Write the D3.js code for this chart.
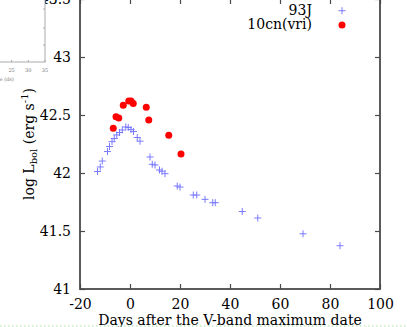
<!DOCTYPE html>
<html><head><meta charset="utf-8">
<script src="https://cdn.jsdelivr.net/npm/d3@7"></script>
<style>
html,body{margin:0;padding:0;background:#fff;}
svg{display:block;}
text{font-family:"DejaVu Serif",serif;}
</style></head>
<body>
<script>
// ---- data ----
const days93J = [-13.0,-11.9,-11.1,-9.0,-8.2,-7.2,-6.3,-5.3,-4.2,-3.1,-1.7,-0.7,0.4,1.4,2.9,4.0,8.0,8.9,10.0,11.8,12.8,14.0,18.9,20.0,25.3,26.7,30.0,33.1,34.1,44.9,51.1,69.2,84.0];
const logL93J = [42.013,42.052,42.103,42.185,42.228,42.27,42.297,42.328,42.349,42.371,42.397,42.392,42.375,42.358,42.306,42.274,42.138,42.075,42.069,42.026,42.015,41.994,41.888,41.879,41.81,41.81,41.773,41.744,41.744,41.668,41.612,41.476,41.373];
const days10cn = [-6.7,-5.6,-4.5,-2.7,-0.5,0.4,1.3,6.5,7.5,15.5,20.4];
const logL10cn = [42.385,42.485,42.474,42.584,42.62,42.62,42.60,42.566,42.457,42.325,42.164];
const xTicks = [-20,0,20,40,60,80,100];
const yTicks = [41,41.5,42,42.5,43,43.5];
const legendLabels = ["93J","10cn(vri)"];
const insetTicks = [25,30,35];

const W = 407, H = 327;
const svg = d3.select("body").append("svg").attr("width",W).attr("height",H);

const x = d3.scaleLinear().domain([-20,100]).range([80,380]);
const y = d3.scaleLinear().domain([41,43.5]).range([289,-1]);
const axisColor = "#4a4a4a";

// axes
const gx = svg.append("g").attr("transform",`translate(0,${y(41)})`)
  .call(d3.axisBottom(x).tickValues(xTicks).tickSize(-5).tickSizeOuter(0).tickPadding(10).tickFormat(d=>d));
const gxt = svg.append("g").attr("transform",`translate(0,${y(43.5)})`)
  .call(d3.axisTop(x).tickValues(xTicks).tickSize(-5).tickSizeOuter(0).tickFormat(""));
const gy = svg.append("g").attr("transform",`translate(${x(-20)},0)`)
  .call(d3.axisLeft(y).tickValues(yTicks).tickSize(-5).tickSizeOuter(0).tickPadding(9).tickFormat(d=>d));
const gyr = svg.append("g").attr("transform",`translate(${x(100)},0)`)
  .call(d3.axisRight(y).tickValues(yTicks).tickSize(-5).tickSizeOuter(0).tickFormat(""));
[gx,gxt,gy,gyr].forEach(g=>{
  g.select(".domain").remove();
  g.selectAll(".tick line").attr("stroke",axisColor).attr("stroke-width",1.2);
  g.selectAll(".tick text").attr("fill","#000").attr("font-size",14).attr("font-family","DejaVu Serif, serif");
});
// frame
svg.append("rect").attr("x",x(-20)).attr("y",y(43.5)).attr("width",x(100)-x(-20)).attr("height",y(41)-y(43.5))
  .attr("fill","none").attr("stroke",axisColor).attr("stroke-width",1.8);

// 93J crosses
svg.append("g").selectAll("path").data(days93J).join("path")
  .attr("transform",(d,i)=>`translate(${x(d)},${y(logL93J[i])})`)
  .attr("d","M-3.5,0H3.5M0,-3.5V3.5")
  .attr("stroke","#7a7aff").attr("stroke-width",1).attr("fill","none");

// 10cn dots
svg.append("g").selectAll("circle").data(days10cn).join("circle")
  .attr("cx",d=>x(d)).attr("cy",(d,i)=>y(logL10cn[i])).attr("r",3.5).attr("fill","#ff0000");

// legend
const lg = svg.append("g");
lg.append("text").attr("x",312).attr("y",14.5).attr("text-anchor","end").attr("font-size",14).text(legendLabels[0]);
lg.append("text").attr("x",312).attr("y",29).attr("text-anchor","end").attr("font-size",14).text(legendLabels[1]);
lg.append("path").attr("transform","translate(342,10.7)").attr("d","M-3.5,0H3.5M0,-3.5V3.5").attr("stroke","#7a7aff").attr("stroke-width",1);
lg.append("circle").attr("cx",342).attr("cy",25).attr("r",3.5).attr("fill","#ff0000");

// x label
svg.append("text").attr("x",230).attr("y",324.5).attr("text-anchor","middle").attr("font-size",14)
  .text("Days after the V-band maximum date");

// y label
const yl = svg.append("text").attr("transform","translate(34,144) rotate(-90)").attr("text-anchor","middle").attr("font-size",14);
yl.append("tspan").text("log L");
yl.append("tspan").attr("font-size",10).attr("dy",3).text("bol");
yl.append("tspan").attr("dy",-3).text(" (erg s");
yl.append("tspan").attr("font-size",10).attr("dy",-6).text("-1");
yl.append("tspan").attr("dy",6).text(")");

// inset (cropped neighbouring panel)
const xi = d3.scaleLinear().domain([0,35]).range([-72,45]);
const ins = svg.append("g");
ins.append("rect").attr("x",-10).attr("y",-10).attr("width",55).attr("height",72)
  .attr("fill","#fff").attr("stroke","#aaaaaa").attr("stroke-width",1);
ins.selectAll("line.bt").data(insetTicks).join("line").attr("class","bt")
  .attr("x1",d=>xi(d)).attr("x2",d=>xi(d)).attr("y1",62).attr("y2",60).attr("stroke","#aaa");
ins.selectAll("line.rt").data([9,28,45]).join("line").attr("class","rt")
  .attr("x1",45).attr("x2",43).attr("y1",d=>d).attr("y2",d=>d).attr("stroke","#aaa");
ins.selectAll("text").data(insetTicks).join("text")
  .attr("x",d=>xi(d)).attr("y",72).attr("text-anchor","middle").attr("font-size",5).attr("fill","#777").text(d=>d);
ins.append("text").attr("x",14).attr("y",81).attr("text-anchor","end").attr("font-size",5).attr("fill","#777").text("e (ds)");

// dotted green line at the bottom
svg.append("line").attr("x1",0).attr("x2",W).attr("y1",326).attr("y2",326)
  .attr("stroke","#a8e0a8").attr("stroke-width",1).attr("stroke-dasharray","1.5,2.5");
</script>
</body></html>
